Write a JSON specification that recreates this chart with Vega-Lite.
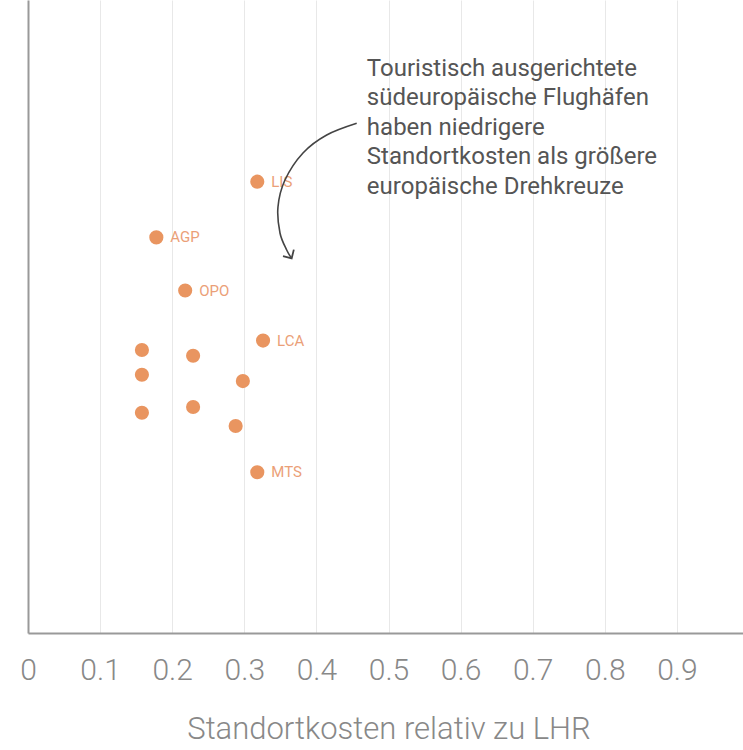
{
  "$schema": "https://vega.github.io/schema/vega-lite/v6.json",
  "width": 721,
  "height": 633,
  "autosize": {"type": "none"},
  "padding": {"left": 28, "top": 0, "right": 0, "bottom": 117},
  "background": "white",
  "config": {
    "view": {"stroke": null},
    "font": "Roboto"
  },
  "datasets": {
    "airports": [
      {"kosten": 0.318, "pos": 71.3, "code": "LIS"},
      {"kosten": 0.178, "pos": 62.5, "code": "AGP"},
      {"kosten": 0.218, "pos": 54.1, "code": "OPO"},
      {"kosten": 0.326, "pos": 46.2, "code": "LCA"},
      {"kosten": 0.158, "pos": 44.7, "code": ""},
      {"kosten": 0.229, "pos": 43.8, "code": ""},
      {"kosten": 0.158, "pos": 40.8, "code": ""},
      {"kosten": 0.298, "pos": 39.8, "code": ""},
      {"kosten": 0.158, "pos": 34.8, "code": ""},
      {"kosten": 0.229, "pos": 35.7, "code": ""},
      {"kosten": 0.288, "pos": 32.7, "code": ""},
      {"kosten": 0.318, "pos": 25.4, "code": "MTS"}
    ],
    "note": [
      {"kosten": 0.470, "pos": 88.0, "text": "Touristisch ausgerichtete\nsüdeuropäische Flughäfen\nhaben niedrigere\nStandortkosten als größere\neuropäische Drehkreuze"}
    ],
    "arrow": [
      {"i": 1, "kosten": 0.4559, "pos": 80.52},
      {"i": 2, "kosten": 0.4143, "pos": 78.67},
      {"i": 3, "kosten": 0.3814, "pos": 75.83},
      {"i": 4, "kosten": 0.3564, "pos": 71.56},
      {"i": 5, "kosten": 0.3467, "pos": 67.30},
      {"i": 6, "kosten": 0.3495, "pos": 63.19},
      {"i": 7, "kosten": 0.3588, "pos": 60.51},
      {"i": 8, "kosten": 0.3657, "pos": 59.19}
    ],
    "tip": [
      {"kosten": 0.3657, "pos": 59.19}
    ]
  },
  "layer": [
    {
      "data": {"name": "airports"},
      "mark": {"type": "circle", "size": 200, "color": "#e99560", "opacity": 1},
      "encoding": {
        "x": {
          "field": "kosten",
          "type": "quantitative",
          "scale": {"domain": [0, 1], "nice": false},
          "title": "Standortkosten relativ zu LHR",
          "axis": {
            "values": [0, 0.1, 0.2, 0.3, 0.4, 0.5, 0.6, 0.7, 0.8, 0.9, 1],
            "format": "~g",
            "grid": true,
            "gridColor": "#e8e8e8",
            "gridWidth": 1,
            "ticks": false,
            "domainColor": "#999999",
            "domainWidth": 2,
            "labelFontSize": 30,
            "labelFont": "Roboto",
            "labelFontWeight": 300,
            "labelColor": "#888888",
            "labelPadding": 22,
            "labelOverlap": false,
            "labelBound": false,
            "labelFlush": false,
            "titleFontSize": 31,
            "titleFont": "Roboto",
            "titleFontWeight": 300,
            "titleColor": "#888888",
            "titlePadding": 29
          }
        },
        "y": {
          "field": "pos",
          "type": "quantitative",
          "scale": {"domain": [0, 100], "nice": false},
          "axis": {
            "title": null,
            "labels": false,
            "ticks": false,
            "grid": false,
            "domainColor": "#999999",
            "domainWidth": 2
          }
        }
      }
    },
    {
      "data": {"name": "airports"},
      "mark": {"type": "text", "align": "left", "baseline": "middle", "dx": 14, "fontSize": 15, "color": "#eb9f78", "font": "Roboto"},
      "encoding": {
        "x": {"field": "kosten", "type": "quantitative"},
        "y": {"field": "pos", "type": "quantitative"},
        "text": {"field": "code"}
      }
    },
    {
      "data": {"name": "note"},
      "mark": {"type": "text", "align": "left", "baseline": "alphabetic", "fontSize": 24, "lineHeight": 29.5, "lineBreak": "\n", "color": "#555555", "font": "Roboto"},
      "encoding": {
        "x": {"field": "kosten", "type": "quantitative"},
        "y": {"field": "pos", "type": "quantitative"},
        "text": {"field": "text"}
      }
    },
    {
      "data": {"name": "arrow"},
      "mark": {"type": "line", "interpolate": "cardinal", "color": "#444444", "strokeWidth": 1.6},
      "encoding": {
        "x": {"field": "kosten", "type": "quantitative"},
        "y": {"field": "pos", "type": "quantitative"},
        "order": {"field": "i", "type": "quantitative"}
      }
    },
    {
      "data": {"name": "tip"},
      "mark": {"type": "point", "shape": "M-1,-1L0,0L1,-1", "size": 160, "angle": 329, "filled": false, "stroke": "#444444", "strokeWidth": 1.8, "opacity": 1},
      "encoding": {
        "x": {"field": "kosten", "type": "quantitative"},
        "y": {"field": "pos", "type": "quantitative"}
      }
    }
  ]
}
